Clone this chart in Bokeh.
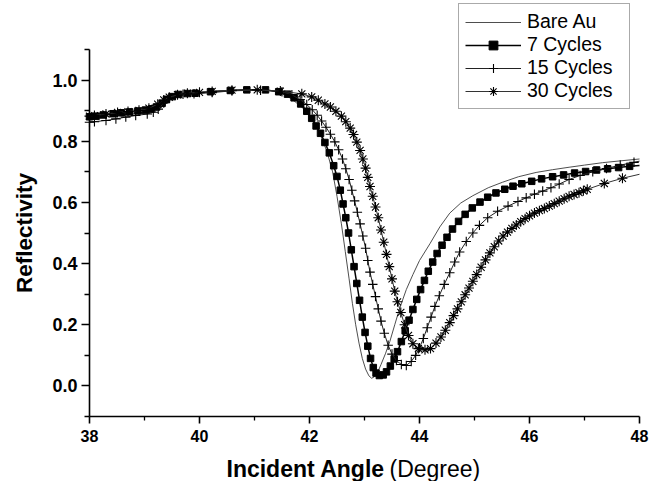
from bokeh.plotting import figure
from bokeh.models import (FixedTicker, PrintfTickFormatter, Label, Legend,
                          LegendItem, Range1d)
from bokeh.embed import file_html
from bokeh.resources import INLINE

# Incident angle (deg) and reflectivity for each sample
bare_x = [38.0, 38.5, 39.0, 39.3, 39.5, 39.8, 40.2, 40.6, 41.0, 41.3, 41.5, 41.7,
          41.9, 42.07, 42.2, 42.32, 42.42, 42.5, 42.58, 42.65, 42.72, 42.78, 42.84,
          42.9, 42.96, 43.02, 43.08, 43.13, 43.18, 43.24, 43.3, 43.38, 43.46, 43.55,
          43.64, 43.76, 43.88, 44.0, 44.19, 44.37, 44.55, 44.75, 44.97, 45.25, 45.51,
          45.8, 46.12, 46.42, 46.72, 47.0, 47.33, 47.66, 48.0]
bare_y = [0.875, 0.885, 0.893, 0.91, 0.94, 0.955, 0.962, 0.966, 0.968, 0.966, 0.958,
          0.935, 0.905, 0.87, 0.82, 0.765, 0.7, 0.62, 0.53, 0.44, 0.35, 0.27, 0.2,
          0.14, 0.09, 0.055, 0.033, 0.025, 0.03, 0.045, 0.07, 0.105, 0.145, 0.2,
          0.254, 0.315, 0.364, 0.41, 0.465, 0.52, 0.565, 0.598, 0.622, 0.648, 0.666,
          0.684, 0.698, 0.707, 0.715, 0.722, 0.73, 0.736, 0.742]

c7_x = [38.0, 38.12, 38.25, 38.43, 38.58, 38.73, 38.88, 39.02, 39.13, 39.22, 39.32,
        39.4, 39.5, 39.62, 39.78, 39.92, 40.2, 40.56, 40.86, 41.2, 41.44, 41.6, 41.72,
        41.84, 41.95, 42.04, 42.12, 42.2, 42.28, 42.36, 42.44, 42.5, 42.56, 42.61,
        42.66, 42.71, 42.76, 42.81, 42.86, 42.91, 42.96, 43.01, 43.06, 43.11, 43.16,
        43.21, 43.27, 43.34, 43.4, 43.47, 43.54, 43.6, 43.67, 43.74, 43.81, 43.88,
        43.95, 44.02, 44.09, 44.16, 44.24, 44.32, 44.41, 44.5, 44.6, 44.71, 44.83,
        44.96, 45.1, 45.24, 45.39, 45.55, 45.7, 45.86, 46.04, 46.22, 46.42, 46.62,
        46.82, 47.02, 47.22, 47.42, 47.62, 47.82, 48.0]
c7_y = [0.88, 0.882, 0.886, 0.89, 0.893, 0.896, 0.899, 0.902, 0.906, 0.912, 0.924,
        0.937, 0.946, 0.953, 0.956, 0.957, 0.962, 0.966, 0.968, 0.968, 0.962, 0.954,
        0.942, 0.922, 0.898, 0.875, 0.85, 0.826, 0.796, 0.762, 0.72, 0.685, 0.64,
        0.595, 0.55, 0.5, 0.445, 0.39, 0.335, 0.28, 0.225, 0.175, 0.13, 0.09, 0.06,
        0.042, 0.034, 0.036, 0.046, 0.065, 0.088, 0.112, 0.145, 0.18, 0.215, 0.25,
        0.283, 0.315, 0.345, 0.375, 0.405, 0.433, 0.46, 0.486, 0.513, 0.538, 0.561,
        0.582, 0.601, 0.617, 0.631, 0.643, 0.653, 0.661, 0.669, 0.677, 0.684, 0.69,
        0.696, 0.701, 0.706, 0.71, 0.714, 0.718, 0.721]

c15_x = [38.0, 38.09, 38.3, 38.48, 38.66, 38.84, 39.05, 39.16, 39.25, 39.35, 39.45,
         39.56, 39.7, 39.9, 40.23, 40.59, 41.11, 41.5, 41.68, 41.83, 41.95, 42.05,
         42.14, 42.22, 42.3, 42.38, 42.46, 42.53, 42.6, 42.66, 42.72, 42.77, 42.82,
         42.87, 42.92, 42.97, 43.02, 43.06, 43.1, 43.15, 43.2, 43.25, 43.3, 43.36,
         43.43, 43.5, 43.58, 43.67, 43.76, 43.85, 43.93, 44.0, 44.07, 44.14, 44.21,
         44.28, 44.36, 44.45, 44.55, 44.64, 44.73, 44.85, 44.97, 45.09, 45.24, 45.42,
         45.61, 45.79, 45.94, 46.09, 46.24, 46.39, 46.54, 46.72, 46.92, 47.15, 47.4,
         47.65, 47.9, 48.0]
c15_y = [0.862, 0.864, 0.868, 0.873, 0.879, 0.884, 0.889, 0.895, 0.905, 0.925, 0.94,
         0.95, 0.954, 0.955, 0.959, 0.965, 0.967, 0.962, 0.952, 0.936, 0.92, 0.903,
         0.885, 0.866, 0.846, 0.823, 0.798, 0.772, 0.742, 0.71, 0.675, 0.64, 0.605,
         0.568, 0.53, 0.49, 0.45, 0.41, 0.372, 0.332, 0.292, 0.252, 0.212, 0.172,
         0.133, 0.104, 0.083, 0.07, 0.067, 0.08, 0.1, 0.125, 0.155, 0.19, 0.225,
         0.26, 0.295, 0.332, 0.37, 0.405, 0.438, 0.472, 0.5, 0.525, 0.55, 0.571,
         0.588, 0.603, 0.615, 0.627, 0.637, 0.648, 0.66, 0.675, 0.688, 0.7, 0.711,
         0.722, 0.731, 0.735]

c30_x = [38.0, 38.09, 38.3, 38.51, 38.7, 38.9, 39.08, 39.24, 39.35, 39.45, 39.6,
         39.78, 40.0, 40.23, 40.59, 41.05, 41.47, 41.86, 42.04, 42.16, 42.28, 42.38,
         42.48, 42.58, 42.66, 42.74, 42.8, 42.86, 42.92, 42.97, 43.02, 43.06, 43.1,
         43.15, 43.2, 43.25, 43.3, 43.35, 43.4, 43.45, 43.5, 43.55, 43.6, 43.66,
         43.73, 43.8, 43.88, 43.98, 44.1, 44.2, 44.3, 44.39, 44.47, 44.55, 44.62,
         44.69, 44.76, 44.83, 44.9, 44.97, 45.04, 45.12, 45.2, 45.28, 45.36, 45.44,
         45.52, 45.6, 45.68, 45.76, 45.84, 45.92, 46.0, 46.09, 46.18, 46.27, 46.36,
         46.45, 46.54, 46.63, 46.72, 46.81, 46.9, 46.98, 47.05, 47.36, 47.69, 48.0]
c30_y = [0.882, 0.884, 0.889, 0.894, 0.897, 0.901, 0.908, 0.921, 0.935, 0.944, 0.952,
         0.957, 0.96, 0.963, 0.967, 0.968, 0.964, 0.955, 0.945, 0.934, 0.922, 0.912,
         0.898, 0.882, 0.864, 0.843, 0.822, 0.797, 0.77, 0.742, 0.712, 0.682, 0.652,
         0.62, 0.585, 0.55, 0.51, 0.47, 0.43, 0.39, 0.35, 0.31, 0.275, 0.24, 0.2,
         0.165, 0.138, 0.122, 0.118, 0.122, 0.14, 0.16, 0.182, 0.207, 0.23, 0.252,
         0.275, 0.298, 0.32, 0.342, 0.364, 0.388, 0.412, 0.435, 0.455, 0.474, 0.49,
         0.503, 0.515, 0.526, 0.537, 0.547, 0.556, 0.565, 0.573, 0.58, 0.588, 0.596,
         0.604, 0.612, 0.62, 0.626, 0.632, 0.638, 0.643, 0.662, 0.679, 0.692]

series_names = ["Bare Au", "7 Cycles", "15 Cycles", "30 Cycles"]
x_ticks = [38, 40, 42, 44, 46, 48]
x_minor = [39, 41, 43, 45, 47]
y_ticks = [0.0, 0.2, 0.4, 0.6, 0.8, 1.0]
y_minor = [-0.1, 0.1, 0.3, 0.5, 0.7, 0.9, 1.1]
x_lo, x_hi = 38.0, 48.0
y_lo, y_hi = -0.1, 1.1

FONT = "Liberation Sans"

# The frame covers the whole canvas; both axes are pinned at the data limits,
# which leaves room for tick labels, titles and the legend around them.
W, H = 649, 481
AX_LEFT, AX_RIGHT, AX_TOP, AX_BOTTOM = 89.0, 639.0, 49.0, 416.0
px_x = (AX_RIGHT - AX_LEFT) / (x_hi - x_lo)
px_y = (AX_BOTTOM - AX_TOP) / (y_hi - y_lo)
view_x = (x_lo - AX_LEFT / px_x, x_hi + (W - AX_RIGHT) / px_x)
view_y = (y_lo - (H - AX_BOTTOM) / px_y, y_hi + AX_TOP / px_y)

p = figure(width=W, height=H, output_backend="svg", toolbar_location=None,
           x_range=Range1d(*view_x), y_range=Range1d(*view_y),
           min_border=0)
p.outline_line_color = None
p.xgrid.visible = False
p.ygrid.visible = False
p.background_fill_color = "white"

for ax in (p.xaxis[0], p.yaxis[0]):
    ax.axis_line_width = 1.6
    ax.axis_line_color = "black"
    ax.major_tick_line_width = 1.6
    ax.minor_tick_line_width = 1.3
    ax.major_tick_in = 0
    ax.minor_tick_in = 0
    ax.major_label_text_font = FONT
    ax.major_label_text_font_style = "bold"
    ax.major_label_text_color = "black"

p.xaxis.fixed_location = y_lo
p.xaxis.bounds = (x_lo, x_hi)
p.xaxis.ticker = FixedTicker(ticks=x_ticks, minor_ticks=x_minor)
p.xaxis.formatter = PrintfTickFormatter(format="%d")
p.xaxis.major_tick_out = 7
p.xaxis.minor_tick_out = 4
p.xaxis.major_label_standoff = 6
p.xaxis.major_label_text_font_size = "16px"

p.yaxis.fixed_location = x_lo
p.yaxis.bounds = (y_lo, y_hi)
p.yaxis.ticker = FixedTicker(ticks=y_ticks, minor_ticks=y_minor)
p.yaxis.formatter = PrintfTickFormatter(format="%.1f")
p.yaxis.major_tick_out = 8
p.yaxis.minor_tick_out = 5
p.yaxis.major_label_standoff = 4
p.yaxis.major_label_text_font_size = "18px"
p.yaxis.axis_label = "Reflectivity"
p.yaxis.axis_label_text_font = FONT
p.yaxis.axis_label_text_font_style = "bold"
p.yaxis.axis_label_text_font_size = "22.5px"
p.yaxis.axis_label_text_color = "black"
p.yaxis.axis_label_standoff = 12

# Reflectivity curves
r_bare = p.line(bare_x, bare_y, line_color="#3a3a3a", line_width=0.9)

l7 = p.line(c7_x, c7_y, line_color="black", line_width=1.5)
m7 = p.scatter(c7_x[:-1], c7_y[:-1], marker="square", size=6.5,
               fill_color="black", line_color="black")

l15 = p.line(c15_x, c15_y, line_color="#222222", line_width=1.0)
m15 = p.scatter(c15_x[:-1], c15_y[:-1], marker="cross", size=9.5,
                line_color="black", line_width=1.1)

l30 = p.line(c30_x, c30_y, line_color="#333333", line_width=1.0)
m30 = p.scatter(c30_x[:-1], c30_y[:-1], marker="asterisk", size=10,
                line_color="black", line_width=1.1)

legend = Legend(items=[
    LegendItem(label=series_names[0], renderers=[r_bare]),
    LegendItem(label=series_names[1], renderers=[l7, m7]),
    LegendItem(label=series_names[2], renderers=[l15, m15]),
    LegendItem(label=series_names[3], renderers=[l30, m30]),
], location=(458, 372))
legend.glyph_width = 56
legend.glyph_height = 22
legend.label_height = 22
legend.label_width = 96
legend.spacing = 0
legend.padding = 6
legend.label_standoff = 6
legend.label_text_font = FONT
legend.label_text_font_size = "19.5px"
legend.label_text_color = "black"
legend.border_line_color = "#555555"
legend.border_line_width = 1.5
legend.background_fill_alpha = 1.0
p.add_layout(legend, "center")

# Bottom axis title: bold name followed by plain unit
p.add_layout(Label(x=226, y=13, x_units="screen", y_units="screen",
                   text="Incident Angle", text_font=FONT, text_font_style="bold",
                   text_font_size="23px", text_align="left",
                   text_baseline="middle", text_color="black"))
p.add_layout(Label(x=389, y=13, x_units="screen", y_units="screen",
                   text="(Degree)", text_font=FONT, text_font_style="normal",
                   text_font_size="23px", text_align="left",
                   text_baseline="middle", text_color="black"))

open("out.html", "w").write(file_html(p, INLINE))
